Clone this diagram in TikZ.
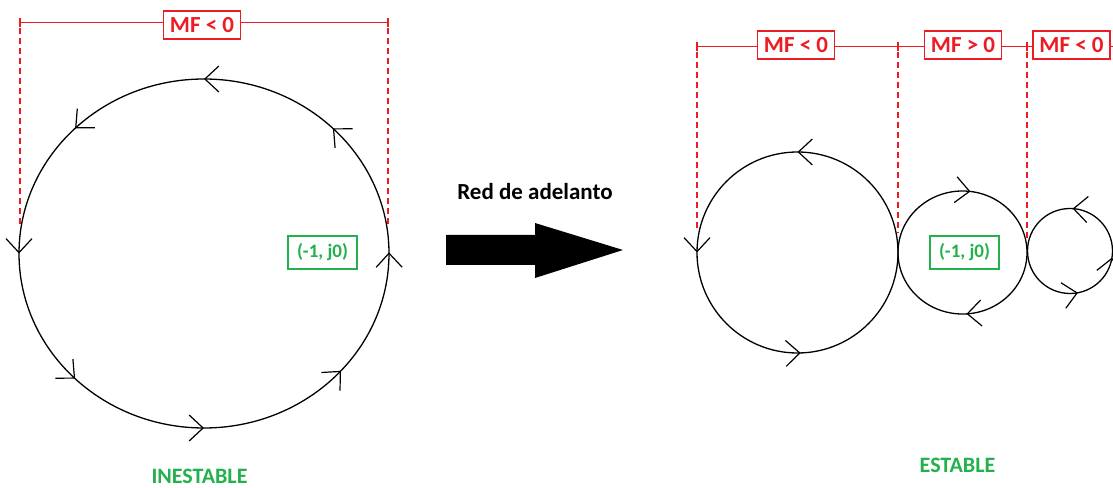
\documentclass[tikz,border=0pt]{standalone}
\usepackage{fontspec}
\setmainfont{Carlito}
\usetikzlibrary{arrows.meta,decorations.markings}
\definecolor{mred}{RGB}{237,28,36}
\definecolor{mgreen}{RGB}{34,177,76}
\tikzset{
  loop/.style={draw=black, line width=1.3pt},
  barb/.style={postaction={decorate,decoration={markings,
      mark=at position #1 with {\arrow[line width=1.2pt]{Straight Barb[length=14pt,width=26pt]}}}}},
  rbarb/.style={postaction={decorate,decoration={markings,
      mark=at position #1 with {\arrowreversed[line width=1.2pt]{Straight Barb[length=14pt,width=26pt]}}}}},
  dim/.style={draw=mred, line width=1.3pt},
  guide/.style={draw=mred, line width=1.3pt, dash pattern=on 6pt off 4pt},
  mfbox/.style={draw=mred, fill=white, line width=1.3pt, text=mred,
      font=\bfseries\fontsize{23}{27}\selectfont, minimum width=77pt,
      minimum height=28pt, inner sep=0pt},
  ptbox/.style={draw=mgreen, fill=white, line width=1.3pt, text=mgreen,
      font=\bfseries\fontsize{19}{22}\selectfont, minimum width=69pt,
      minimum height=33pt, inner sep=0pt},
  verdict/.style={text=mgreen, font=\bfseries\fontsize{22}{26}\selectfont,
      anchor=base, inner sep=0pt},
  caption/.style={text=black, font=\bfseries\fontsize{23}{27}\selectfont,
      anchor=base, inner sep=0pt},
}
\begin{document}
\begin{tikzpicture}[x=1pt,y=1pt]
\clip (0,0) rectangle (1113,487);
\fill[white] (0,0) rectangle (1113,487);

% ---------- left: unstable ----------
\draw[loop, barb=0.001, barb=0.125, barb=0.25, barb=0.375, barb=0.5,
      barb=0.625, barb=0.75, barb=0.885]
  (204,233.5) circle [x radius=185, y radius=174.5];

\coordinate (L1) at (20,464.3);
\coordinate (L2) at (388,464.3);
\draw[dim] (L1) -- (L2);
\draw[dim] ([yshift=-4.5pt]L1) -- ([yshift=4.5pt]L1);
\draw[dim] ([yshift=-4.5pt]L2) -- ([yshift=4.5pt]L2);
\coordinate (L1b) at (20,262);
\coordinate (L2b) at (388,262);
\draw[guide] ([yshift=-5pt]L1) -- (L1b);
\draw[guide] ([yshift=-5pt]L2) -- (L2b);
\node[mfbox] (mfL) at (202,462) {MF < 0};

\node[ptbox] (ptL) at (322.5,234.5) {(-1, j0)};
\node[verdict] (inest) at (199.5,4) {INESTABLE};

% ---------- middle arrow ----------
\node[caption] (red) at (535,287) {Red de adelanto};
\fill[black] (446,252) -- (535,252) -- (535,264) -- (623,237) -- (535,209)
  -- (535,222) -- (446,222) -- cycle;

% ---------- right: stable ----------
\draw[loop, barb=0.25, barb=0.5, barb=0.755]
  (797.5,234.5) circle [radius=100.5];
\draw[loop, rbarb=0.23, rbarb=0.76]
  (962.5,234.5) circle [x radius=64.5, y radius=61.5];
\draw[loop, barb=0.24, barb=0.78, barb=0.975]
  (1070,236) circle [radius=42.5];

\coordinate (R1) at (697,440.3);
\coordinate (R2) at (898,440.3);
\coordinate (R3) at (1027,440.3);
\coordinate (R4) at (1120,440.3);
\draw[dim] (R1) -- (R4);
\foreach \p in {R1,R2,R3}
  \draw[dim] ([yshift=-4.5pt]\p) -- ([yshift=4.5pt]\p);
\coordinate (R1b) at (697,257);
\coordinate (R2b) at (898,254);
\coordinate (R3b) at (1027,249);
\draw[guide] ([yshift=-5pt]R1) -- (R1b);
\draw[guide] ([yshift=-5pt]R2) -- (R2b);
\draw[guide] ([yshift=-5pt]R3) -- (R3b);
\node[mfbox] (mfR1) at (796,442) {MF < 0};
\node[mfbox] (mfR2) at (963,442) {MF > 0};
\node[mfbox] (mfR3) at (1071.5,442) {MF < 0};

\node[ptbox] (ptR) at (964.5,234.5) {(-1, j0)};
\node[verdict] (est) at (957.5,15) {ESTABLE};
\end{tikzpicture}
\end{document}
